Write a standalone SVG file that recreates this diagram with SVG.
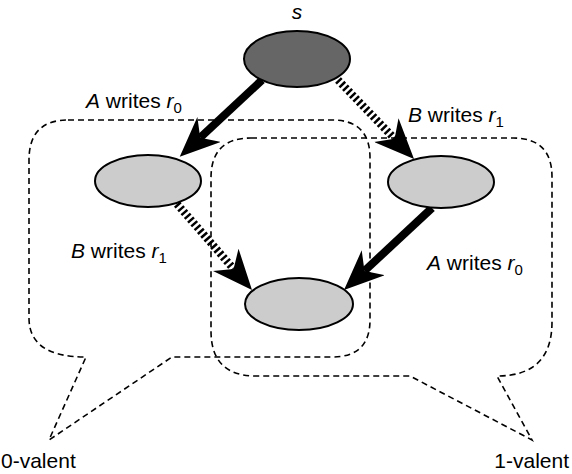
<svg xmlns="http://www.w3.org/2000/svg" width="572" height="474" viewBox="0 0 572 474">
<defs>
<style>
.node{fill:#cccccc;stroke:#000;stroke-width:2}
.top{fill:#666666;stroke:#000;stroke-width:2}
.region{fill:none;stroke:#000;stroke-width:1.6;stroke-dasharray:6 4}
.solid{fill:none;stroke:#000;stroke-width:8}
.hatch{fill:none;stroke:#000;stroke-width:8;stroke-dasharray:2.5 2.5}
text{font-family:"Liberation Sans",Arial,sans-serif;font-size:21px;fill:#000}
.it{font-style:italic}
.sub{font-size:15px}
</style>
<marker id="head" viewBox="0 0 40 34" markerUnits="userSpaceOnUse" markerWidth="40" markerHeight="34" refX="12" refY="17" orient="auto">
<path d="M0,0 L40,17 L0,34 L12,17 Z" fill="#000"/>
</marker>
</defs>
<g id="regions">
<path id="zero-valent" class="region" d="M68,120 L332,120 Q370,120 370,158 L370,320 Q370,357 332,357 L172,357 L49,440 L86,357 Q29,357 29,318 L29,160 Q29,120 68,120 Z"/>
<path id="one-valent" class="region" d="M251,138 L513,138 Q552,138 552,177 L552,322 Q552,376 497,376 L532,440 L410,376 L256,376 Q211,376 211,331 L211,178 Q211,138 251,138 Z"/>
</g>
<g id="connectors">
<line class="solid" x1="262" y1="80" x2="200.2" y2="137.7" marker-end="url(#head)"/>
<line class="hatch" x1="338" y1="80" x2="394.6" y2="138.8" marker-end="url(#head)"/>
<line class="hatch" x1="177" y1="204" x2="233.6" y2="268.9" marker-end="url(#head)"/>
<line class="solid" x1="432" y1="208" x2="364.5" y2="270.9" marker-end="url(#head)"/>
</g>
<g id="node-s"><ellipse class="top" cx="297" cy="59" rx="53" ry="28"/></g>
<g id="node-left"><ellipse class="node" cx="148" cy="181" rx="53" ry="26"/></g>
<g id="node-right"><ellipse class="node" cx="441" cy="182" rx="53" ry="26"/></g>
<g id="node-bottom"><ellipse class="node" cx="299" cy="304" rx="54" ry="26"/></g>
<g id="labels">
<text x="297" y="19" class="it" text-anchor="middle">s</text>
<text x="86" y="108"><tspan class="it">A</tspan> writes <tspan class="it">r</tspan><tspan class="sub" dy="5">0</tspan></text>
<text x="408" y="122"><tspan class="it">B</tspan> writes <tspan class="it">r</tspan><tspan class="sub" dy="5">1</tspan></text>
<text x="71" y="258"><tspan class="it">B</tspan> writes <tspan class="it">r</tspan><tspan class="sub" dy="5">1</tspan></text>
<text x="427" y="270"><tspan class="it">A</tspan> writes <tspan class="it">r</tspan><tspan class="sub" dy="5">0</tspan></text>
<text x="1" y="468">0-valent</text>
<text x="569" y="468" text-anchor="end">1-valent</text>
</g>
</svg>
